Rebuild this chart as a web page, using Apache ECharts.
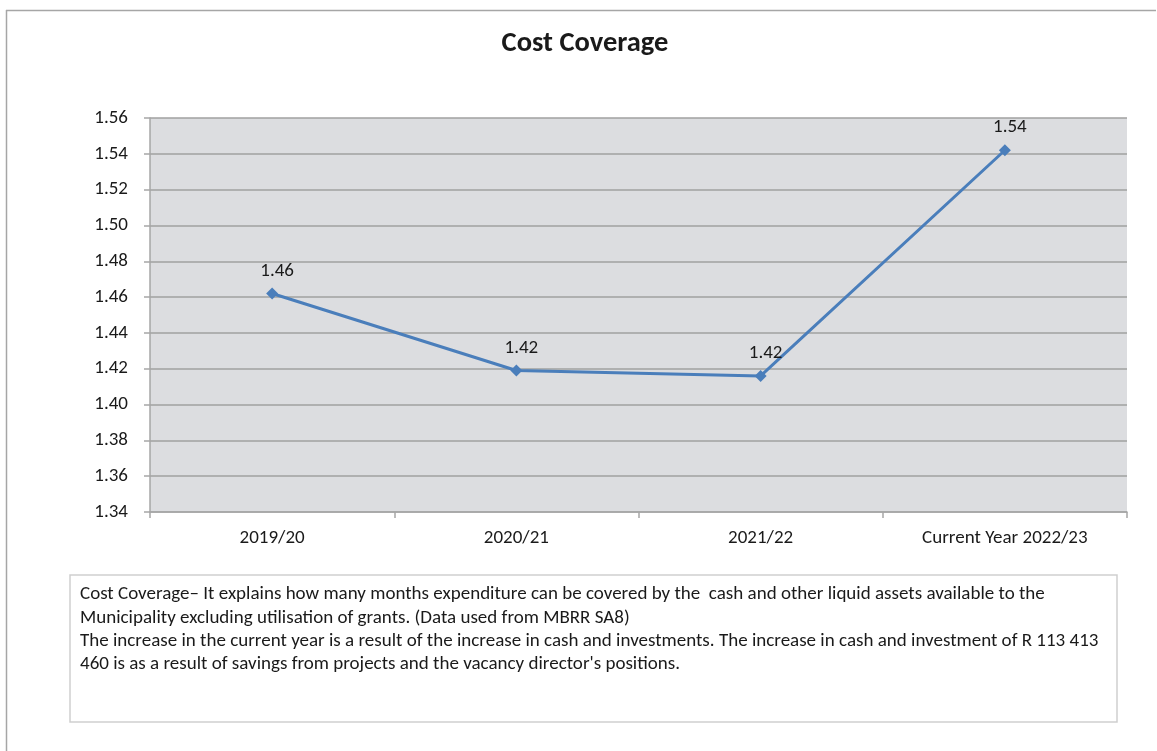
<!DOCTYPE html>
<html>
<head>
<meta charset="utf-8">
<script src="https://cdn.jsdelivr.net/npm/echarts@6/dist/echarts.min.js"></script>
<style>
  html, body { margin: 0; padding: 0; background: #fff; }
  #chart { width: 1157px; height: 751px; }
</style>
</head>
<body>
<div id="chart"></div>
<script>
const categories = ['2019/20', '2020/21', '2021/22', 'Current Year 2022/23'];
const costCoverage = [1.462, 1.419, 1.416, 1.542];
const yTicks = { min: 1.34, max: 1.56, step: 0.02 };
const titleText = 'Cost Coverage';
const noteLines = [
  'Cost Coverage\u2013 It explains how many months expenditure can be covered by the  cash and other liquid assets available to the',
  'Municipality excluding utilisation of grants. (Data used from MBRR SA8)',
  'The increase in the current year is a result of the increase in cash and investments. The increase in cash and investment of R 113 413',
  "460 is as a result of savings from projects and the vacancy director's positions."
];

const FONT = 'Carlito, Calibri, Lato, sans-serif';
const chart = echarts.init(document.getElementById('chart'), null, { renderer: 'canvas' });

chart.setOption({
  backgroundColor: '#ffffff',
  animation: false,
  title: {
    text: titleText,
    left: 580, top: 24, textAlign: 'center',
    textStyle: { fontFamily: FONT, fontSize: 28.5, fontWeight: 'bold', color: '#1a1a1a' }
  },
  grid: { left: 150, right: 30, top: 118, bottom: 239, backgroundColor: '#dcdde0', show: true, borderWidth: 0 },
  xAxis: {
    type: 'category',
    data: categories,
    boundaryGap: true,
    axisLine: { lineStyle: { color: '#a6a6a6', width: 1.5 } },
    axisTick: { show: true, length: 6, lineStyle: { color: '#a6a6a6', width: 1.5 } },
    axisLabel: { fontFamily: FONT, fontSize: 19, color: '#1a1a1a', margin: 17 }
  },
  yAxis: {
    type: 'value',
    min: yTicks.min, max: yTicks.max, interval: yTicks.step,
    axisLine: { show: true, lineStyle: { color: '#a6a6a6', width: 1.5 } },
    axisTick: { show: true, length: 6, lineStyle: { color: '#a6a6a6', width: 1.5 } },
    splitLine: { lineStyle: { color: '#a0a0a0', width: 1.5 } },
    axisLabel: { fontFamily: FONT, fontSize: 19, color: '#1a1a1a', margin: 22,
      formatter: v => v.toFixed(2) }
  },
  series: [{
    type: 'line',
    data: costCoverage,
    symbol: 'diamond',
    symbolSize: 12,
    lineStyle: { color: '#4a7ebb', width: 3 },
    itemStyle: { color: '#4a7ebb' },
    label: {
      show: true, position: 'top', distance: 7, offset: [5, 0],
      fontFamily: FONT, fontSize: 19, color: '#1a1a1a',
      formatter: p => p.value.toFixed(2)
    }
  }],
  graphic: [
    { type: 'line', shape: { x1: 6, y1: 10.5, x2: 1156, y2: 10.5 }, style: { stroke: '#a6a6a6', lineWidth: 1.5 } },
    { type: 'line', shape: { x1: 6.5, y1: 10, x2: 6.5, y2: 751 }, style: { stroke: '#a6a6a6', lineWidth: 1.5 } },
    { type: 'rect', shape: { x: 70, y: 575, width: 1047, height: 147 }, style: { fill: '#fff', stroke: '#cfcfcf', lineWidth: 1.5 } },
    {
      type: 'text', left: 80, top: 583,
      style: { text: noteLines.join('\n'), fontFamily: FONT, fontSize: 19, lineHeight: 23.3, fill: '#1a1a1a' }
    }
  ]
});
</script>
</body>
</html>
